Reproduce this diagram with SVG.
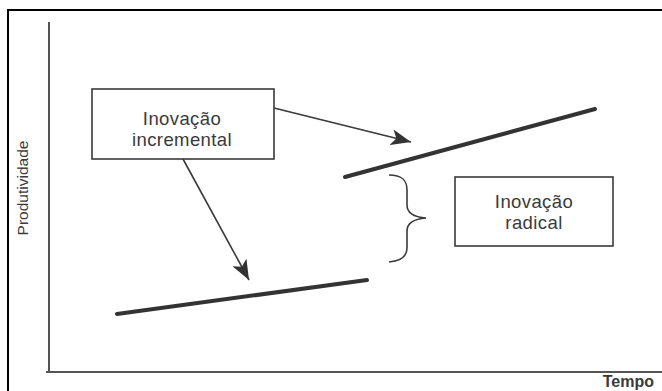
<svg xmlns="http://www.w3.org/2000/svg" width="662" height="391" viewBox="0 0 662 391">
<defs>
<style>
.lbl{font-family:"Liberation Sans",Arial,sans-serif;fill:#3a3a3a;text-anchor:middle}
.big{font-size:18.5px;letter-spacing:0.4px}
.box{fill:#fff;stroke:#3a3a3a;stroke-width:1.6}
.ax{stroke:#555;stroke-width:2;fill:none}
.trend{stroke:#333;stroke-width:4;stroke-linecap:round}
.arr{stroke:#3a3a3a;stroke-width:1.6;fill:none}
</style>
<marker id="tri" markerUnits="userSpaceOnUse" markerWidth="22" markerHeight="16" refX="20" refY="8" orient="auto" viewBox="0 0 22 16">
<path d="M0,0 L20,8 L0,16 L5,8 Z" fill="#333"/>
</marker>
</defs>
<rect x="0" y="0" width="662" height="391" fill="#fff"/>
<rect x="8" y="10" width="660" height="390" fill="none" stroke="#000" stroke-width="2"/>
<g id="axes">
<line class="ax" x1="49" y1="22" x2="49" y2="373"/>
<line class="ax" x1="46" y1="372" x2="662" y2="372"/>
<text class="lbl" x="0" y="0" font-size="15.5" transform="translate(28,188) rotate(-90)">Produtividade</text>
<text class="lbl" x="654" y="387" font-size="16" font-weight="bold" style="text-anchor:end">Tempo</text>
</g>
<g id="connectors">
<line class="trend" x1="117" y1="314" x2="367" y2="280"/>
<line class="trend" x1="345" y1="177" x2="595" y2="109"/>
<line class="arr" x1="274" y1="108" x2="411" y2="142" marker-end="url(#tri)"/>
<line class="arr" x1="183" y1="159" x2="249" y2="280" marker-end="url(#tri)"/>
<path class="arr" d="M389,175 C402,175 407,180 407,190 L407,205 C407,213 413,217 426,218 C413,219 407,223 407,231 L407,248 C407,257 401,261 389,262"/>
</g>
<g id="incremental">
<rect class="box" x="92" y="89" width="182" height="70"/>
<text class="lbl big" x="182" y="125">Inovação</text>
<text class="lbl big" x="182" y="146">incremental</text>
</g>
<g id="radical">
<rect class="box" x="455" y="177" width="158" height="69"/>
<text class="lbl big" x="534" y="208">Inovação</text>
<text class="lbl big" x="534" y="229">radical</text>
</g>
</svg>
